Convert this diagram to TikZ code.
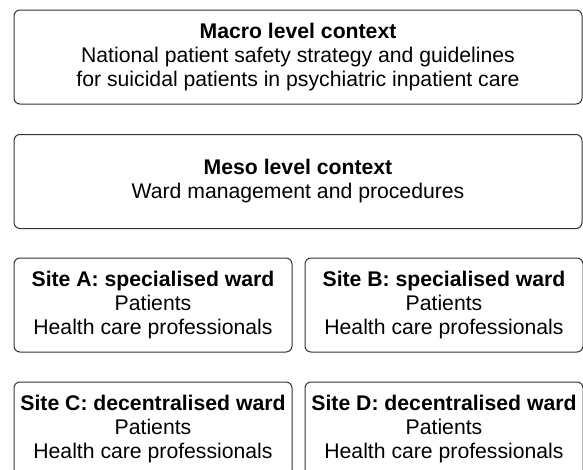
\documentclass[tikz,border=0pt]{standalone}
\usepackage{fontspec}
\setmainfont{Liberation Sans}
\definecolor{boxline}{HTML}{333333}
\begin{document}
\begin{tikzpicture}[x=1pt,y=-1pt,
  levelbox/.style={draw=boxline, line width=1pt, rounded corners=6pt,
    align=center, inner sep=0pt, text=black,
    font=\fontsize{21.2}{24}\selectfont},
  widebox/.style={levelbox, minimum width=568pt, minimum height=94pt},
  sitebox/.style={levelbox, minimum width=278pt, minimum height=94pt}]
\useasboundingbox (0,0) rectangle (583,469);
\clip (0,0) rectangle (583,469);
\node[widebox] (macro) at (298,57) {\textbf{Macro level context}\\National patient safety strategy and guidelines\\for suicidal patients in psychiatric inpatient care};
\node[widebox] (meso) at (298,181.5) {\textbf{Meso level context}\\Ward management and procedures};
\node[sitebox] (siteA) at (153,305) {\textbf{Site A: specialised ward}\\Patients\\Health care professionals};
\node[sitebox] (siteB) at (444,305) {\textbf{Site B: specialised ward}\\Patients\\Health care professionals};
\node[sitebox] (siteC) at (153,429) {\textbf{Site C: decentralised ward}\\Patients\\Health care professionals};
\node[sitebox] (siteD) at (444,429) {\textbf{Site D: decentralised ward}\\Patients\\Health care professionals};
\end{tikzpicture}
\end{document}
